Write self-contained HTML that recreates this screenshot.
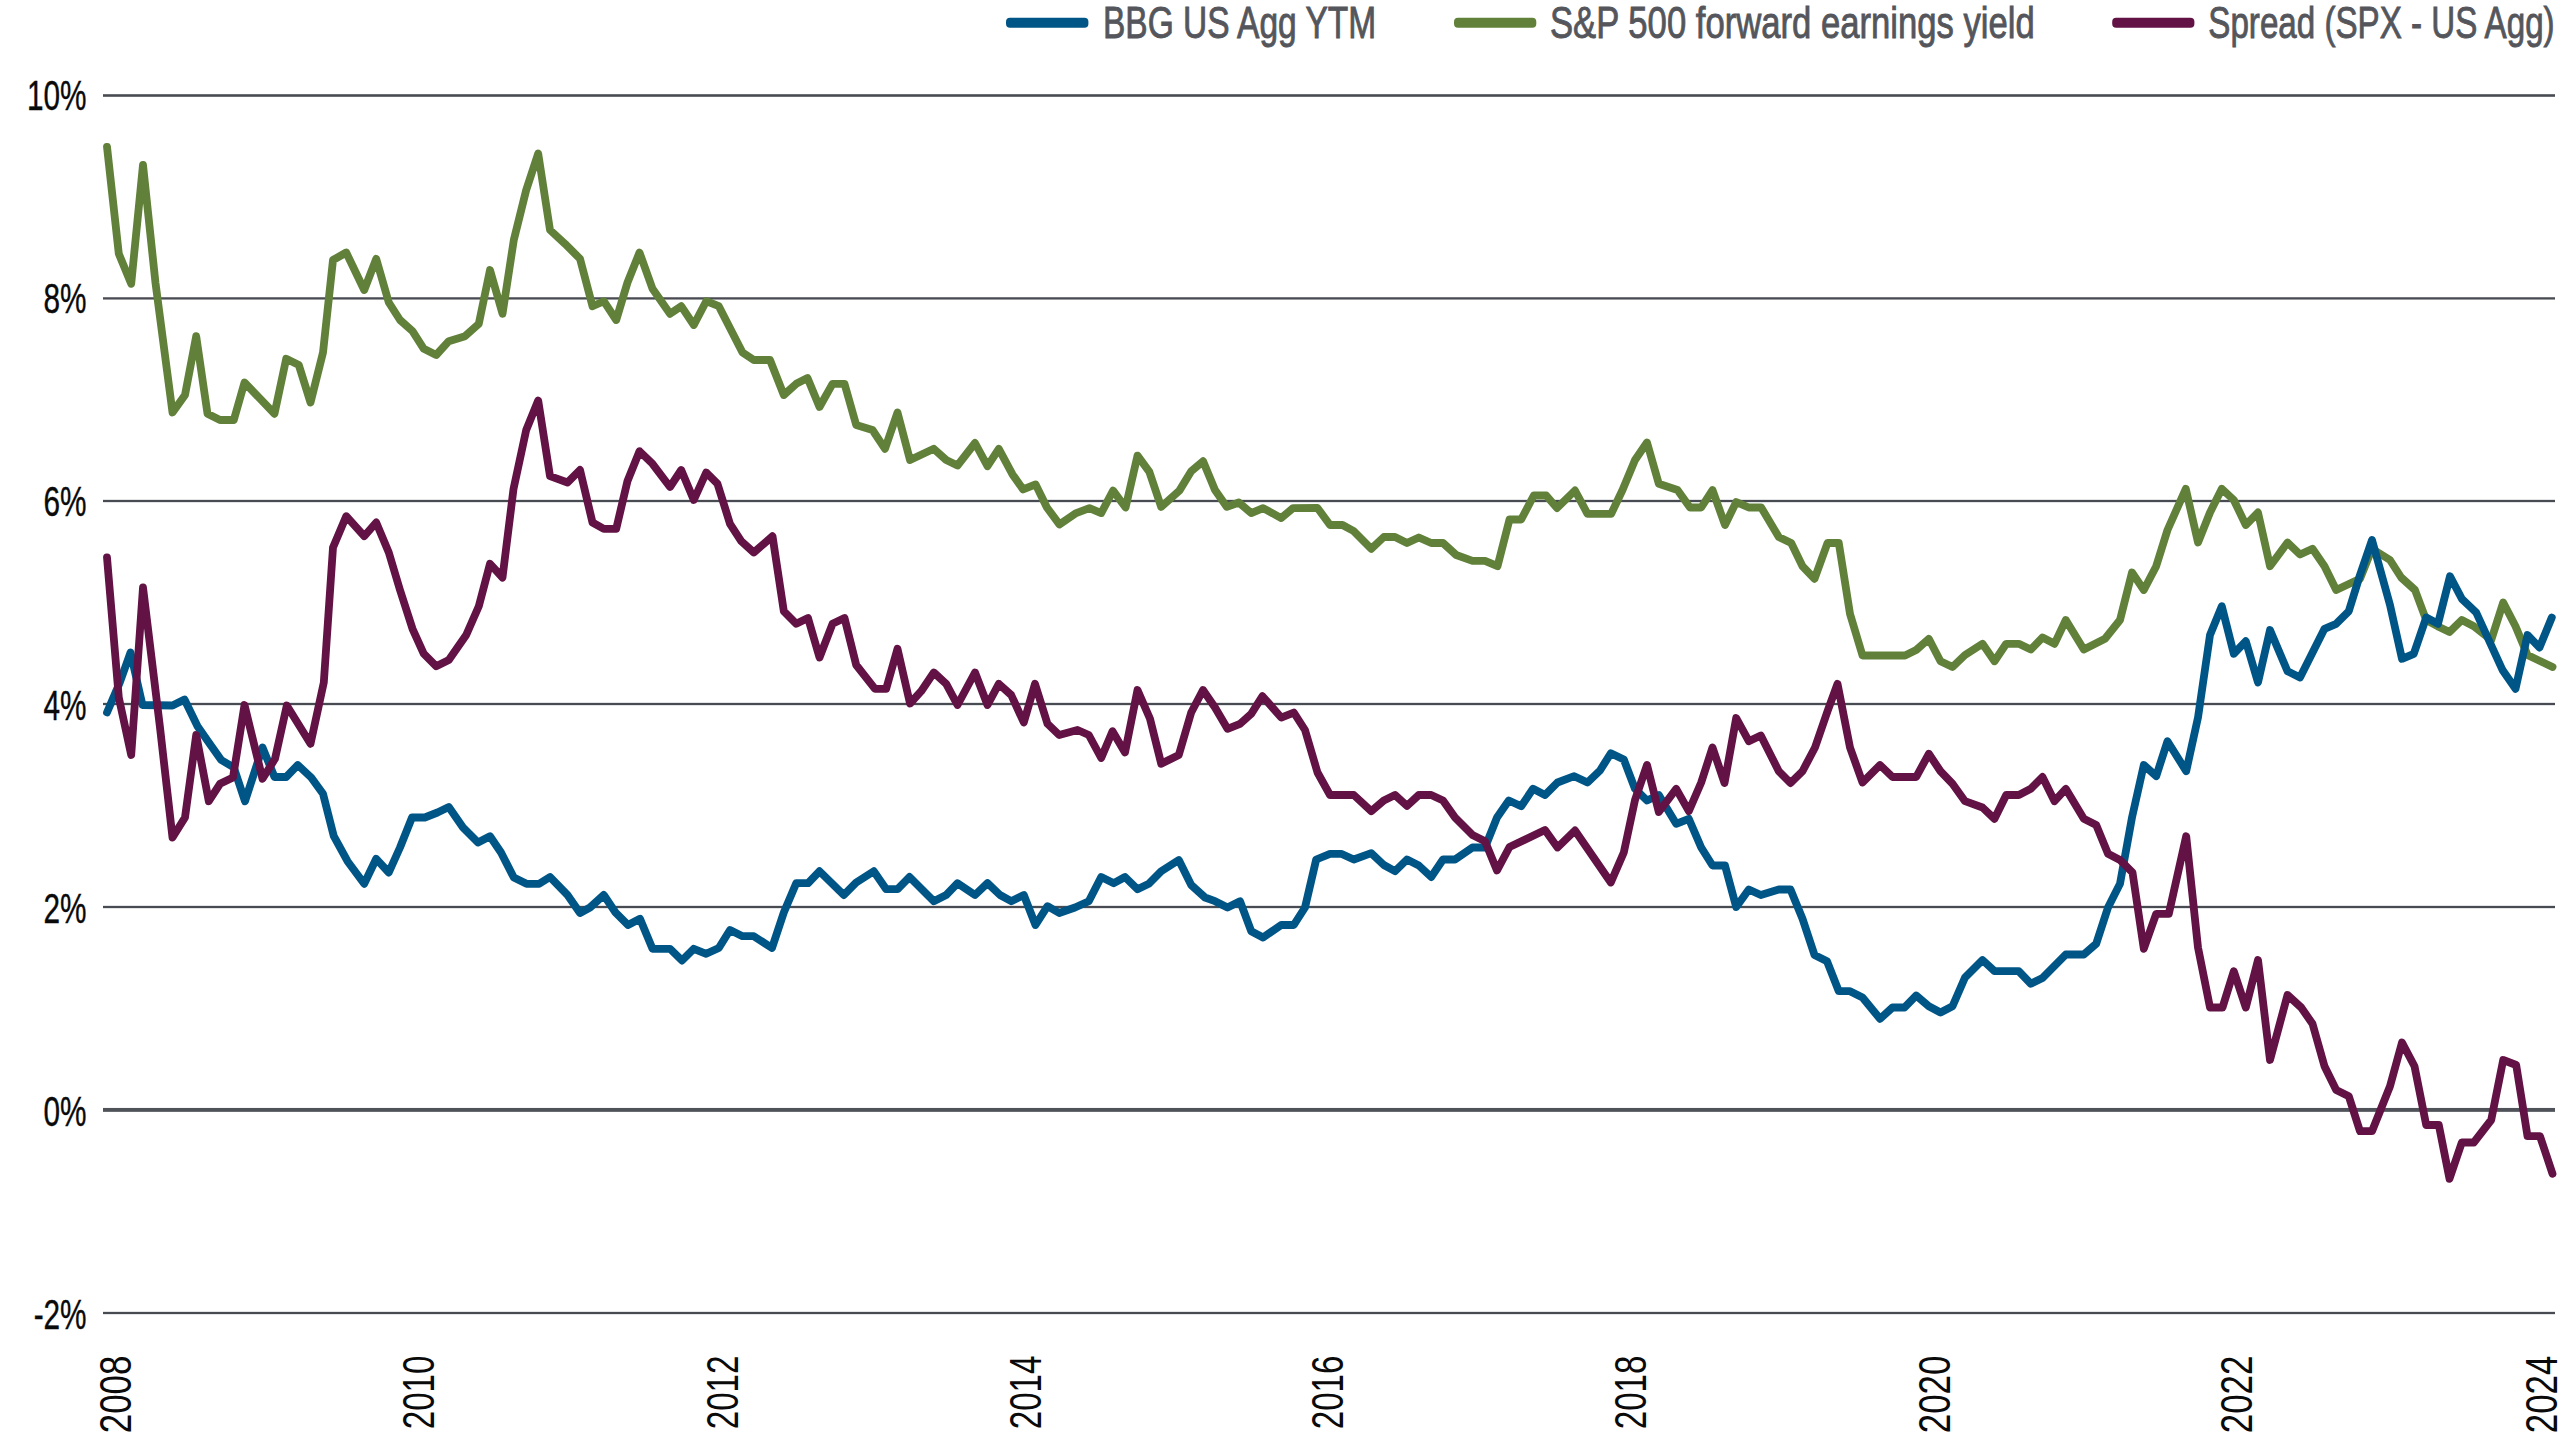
<!DOCTYPE html>
<html lang="en"><head><meta charset="utf-8"><title>Chart</title>
<style>
html,body{margin:0;padding:0;background:#fff;}
body{width:2560px;height:1440px;overflow:hidden;position:relative;font-family:"Liberation Sans",sans-serif;}
svg{position:absolute;left:0;top:0;display:block}
text{font-family:"Liberation Sans",sans-serif;}
.yl{font-size:42.8px;fill:#0a0a0a;text-anchor:end;stroke:#0a0a0a;stroke-width:0.4px}
.xl{font-size:45px;fill:#0a0a0a;text-anchor:end}
.lg{font-size:44.7px;fill:#54565c;text-anchor:start;stroke:#54565c;stroke-width:0.9px}
.ln{fill:none;stroke-width:7.8;stroke-linejoin:round;stroke-linecap:round}
</style></head><body>
<svg width="2560" height="1440" viewBox="0 0 2560 1440">
<rect x="103" y="94.20" width="2452" height="2.60" fill="#484b52"/>
<rect x="103" y="297.25" width="2452" height="2.30" fill="#484b52"/>
<rect x="103" y="499.85" width="2452" height="2.30" fill="#484b52"/>
<rect x="103" y="702.85" width="2452" height="2.30" fill="#484b52"/>
<rect x="103" y="905.85" width="2452" height="2.30" fill="#484b52"/>
<rect x="103" y="1107.95" width="2452" height="3.90" fill="#4f5359"/>
<rect x="103" y="1311.85" width="2452" height="2.30" fill="#484b52"/>
<polyline class="ln" stroke="#61813a" points="107.0,146.8 118.8,253.8 131.2,283.8 143.0,164.8 155.5,283.0 172.5,412.5 185.0,395.0 196.2,336.2 207.5,413.8 220.0,420.0 233.8,420.0 244.5,382.5 274.5,413.8 286.2,358.8 298.8,365.0 310.5,402.5 323.0,352.5 333.0,260.0 346.2,252.5 364.2,290.0 376.2,258.8 388.8,302.5 400.0,320.0 412.5,331.2 423.8,348.8 436.2,355.0 448.8,341.2 465.0,336.2 478.8,323.8 490.0,270.0 502.5,313.8 513.8,240.0 526.2,190.0 538.2,153.5 550.0,230.0 565.0,243.8 580.0,258.8 592.5,306.2 603.8,301.2 616.2,320.0 627.5,282.5 639.5,252.5 652.5,288.8 670.0,313.8 681.2,306.2 693.8,325.0 706.2,301.2 718.8,306.2 742.5,352.5 753.8,360.0 770.0,360.0 783.8,395.0 796.2,383.8 807.5,378.0 819.5,407.0 832.5,383.8 844.5,383.8 856.2,425.0 872.5,430.0 885.0,448.8 897.5,412.5 910.0,460.0 933.8,448.8 946.2,460.0 957.5,465.5 975.0,443.0 987.5,466.2 998.8,448.8 1012.5,474.4 1023.1,489.4 1035.6,484.4 1046.9,507.5 1059.4,524.4 1076.2,513.1 1089.4,508.1 1101.2,513.1 1113.1,490.6 1125.6,507.5 1137.5,455.6 1149.4,471.9 1161.2,506.9 1179.4,490.6 1191.2,471.2 1203.1,461.2 1215.0,490.0 1226.9,506.9 1238.8,502.5 1251.2,513.1 1263.1,508.1 1281.2,518.1 1293.1,508.1 1317.5,508.0 1330.0,525.0 1342.5,525.0 1353.8,531.2 1371.2,548.8 1383.8,537.0 1395.0,537.0 1407.0,543.0 1418.8,537.5 1431.2,543.0 1443.0,543.0 1456.2,555.0 1472.5,560.8 1485.0,560.8 1497.5,566.2 1509.5,519.5 1521.2,519.5 1533.8,495.5 1546.2,495.5 1557.0,508.0 1575.0,490.5 1587.5,513.8 1611.2,513.8 1622.5,490.0 1635.0,460.0 1647.0,442.5 1658.8,483.8 1677.5,490.0 1690.0,507.5 1701.2,507.5 1712.5,490.0 1725.0,525.0 1736.2,502.0 1748.8,507.5 1761.2,507.5 1778.8,537.0 1791.2,543.0 1802.5,566.2 1814.5,578.8 1827.5,543.0 1838.8,543.0 1850.0,613.8 1862.5,655.5 1905.0,655.5 1916.2,650.0 1928.8,638.8 1940.5,661.2 1952.5,667.0 1965.0,655.0 1982.5,643.8 1994.5,661.2 2006.2,643.8 2018.8,643.8 2030.8,649.5 2042.5,637.5 2054.5,643.8 2065.8,620.0 2083.8,649.5 2105.0,638.8 2120.0,620.0 2132.0,572.5 2143.8,590.0 2156.2,566.2 2167.5,530.0 2185.8,488.8 2198.0,542.5 2210.0,512.5 2221.8,488.8 2233.8,500.0 2245.8,525.0 2258.0,512.5 2270.0,566.2 2287.5,542.5 2300.0,554.5 2312.5,548.8 2324.5,566.2 2336.2,590.0 2360.0,578.8 2372.0,548.8 2390.0,560.0 2401.2,577.5 2415.0,590.0 2426.2,620.0 2437.5,626.2 2449.5,632.0 2461.8,620.0 2473.8,626.2 2491.2,640.0 2503.2,602.5 2515.5,626.2 2527.5,655.0 2552.5,667.0"/>
<polyline class="ln" stroke="#005587" points="107.0,712.5 119.8,682.5 130.5,652.5 142.5,705.0 172.5,705.5 184.5,699.5 197.5,726.2 208.8,742.5 221.2,760.0 233.8,767.5 245.0,801.2 262.5,747.5 274.5,777.0 286.2,777.0 297.8,765.0 311.2,777.5 323.0,793.8 333.8,836.2 347.5,861.2 364.2,883.8 376.2,858.8 388.8,872.5 400.0,847.5 412.0,817.5 424.8,817.5 437.5,812.5 448.8,807.0 463.0,827.5 478.0,842.5 490.0,836.2 501.0,852.5 513.8,877.5 526.5,883.8 539.2,883.8 550.0,877.0 567.5,895.0 580.0,913.0 590.0,907.5 603.8,895.0 615.5,912.5 628.0,925.0 640.0,918.8 652.5,948.8 670.0,948.8 682.0,960.5 693.8,948.8 706.2,953.8 718.8,948.0 730.0,930.0 742.5,936.2 753.8,936.2 772.0,948.0 783.8,912.5 796.2,883.2 808.0,883.2 819.5,871.2 843.8,895.0 856.2,882.5 873.8,871.2 886.2,889.2 897.5,889.2 909.5,877.0 933.8,901.2 946.2,895.0 957.5,883.2 975.0,895.0 987.5,883.2 1000.0,895.0 1011.2,901.2 1023.8,895.0 1035.5,925.0 1047.5,906.2 1059.2,913.0 1075.0,907.5 1088.8,901.2 1101.2,877.0 1113.8,883.2 1125.0,877.0 1137.5,889.2 1148.8,883.8 1161.2,871.2 1178.8,860.0 1191.2,885.0 1205.0,897.5 1215.0,901.2 1227.5,907.5 1240.0,901.2 1251.2,931.2 1263.0,937.5 1281.2,925.0 1293.8,925.0 1305.0,907.5 1316.2,859.5 1330.0,853.8 1341.2,853.8 1353.8,859.5 1371.2,853.2 1383.8,865.0 1395.0,871.2 1407.0,859.5 1418.8,865.5 1431.2,877.0 1443.0,859.5 1455.0,859.5 1472.5,847.5 1485.0,847.5 1497.0,817.5 1508.8,800.5 1521.2,806.2 1533.0,788.8 1545.0,795.0 1557.5,782.5 1574.2,776.2 1587.5,782.5 1600.0,770.5 1610.8,753.2 1623.8,759.5 1635.0,788.8 1647.0,800.5 1658.8,795.0 1676.2,823.8 1688.8,818.8 1701.2,847.5 1712.5,865.5 1725.0,865.5 1736.2,907.0 1748.8,889.5 1760.8,895.0 1778.8,889.5 1790.5,889.5 1802.5,918.8 1814.5,955.0 1827.0,961.2 1838.8,991.2 1850.0,991.2 1862.5,997.5 1880.0,1018.8 1892.5,1007.5 1904.5,1007.5 1916.2,995.5 1928.8,1006.2 1940.5,1012.5 1952.5,1006.2 1965.0,977.5 1982.5,960.0 1994.5,971.2 2018.8,971.2 2030.8,983.8 2042.5,978.0 2065.8,954.5 2083.8,954.5 2096.2,943.8 2108.0,907.5 2120.0,883.8 2132.0,817.5 2143.8,765.0 2156.2,776.2 2167.5,741.2 2186.2,771.2 2198.0,717.5 2210.0,635.0 2221.8,606.2 2233.8,653.8 2245.8,641.2 2258.0,682.5 2270.0,630.0 2287.5,671.2 2300.0,677.5 2324.5,628.8 2336.2,623.8 2348.8,611.2 2360.0,575.0 2372.0,540.0 2390.0,605.0 2402.0,658.8 2413.8,653.8 2426.2,617.5 2438.0,623.8 2450.0,576.2 2461.8,598.8 2476.2,612.5 2502.5,670.0 2515.5,688.8 2527.5,635.0 2539.5,647.5 2551.8,617.5"/>
<polyline class="ln" stroke="#621244" points="107.0,557.5 118.8,697.5 131.2,755.0 143.0,587.5 160.0,727.5 172.5,837.5 185.0,817.5 196.2,735.0 208.8,801.2 220.0,783.8 233.0,777.5 244.5,705.0 262.5,778.8 275.0,758.8 286.8,705.5 310.5,743.8 323.8,682.5 333.0,547.5 346.2,516.2 364.2,536.2 376.2,522.5 388.8,552.5 400.0,590.0 412.5,628.8 423.8,653.8 436.2,666.2 448.8,660.0 466.2,635.0 478.8,606.2 490.0,563.8 502.5,577.5 513.5,489.0 526.2,430.0 538.2,400.5 550.0,476.2 567.5,482.5 580.0,470.0 592.5,522.5 603.8,528.8 616.2,528.8 627.5,481.0 639.5,451.2 652.5,463.8 670.0,487.0 681.2,470.0 693.8,500.0 706.2,472.5 717.5,483.8 730.0,523.8 741.2,541.2 753.8,552.5 772.5,536.2 783.8,611.2 796.2,623.8 808.0,618.0 819.5,657.5 832.5,623.8 844.5,618.0 856.2,665.0 875.0,688.8 886.2,688.8 897.5,648.8 910.0,703.5 921.2,691.2 933.8,672.5 946.2,683.8 957.5,705.0 975.0,672.5 987.5,705.0 998.8,683.8 1011.2,695.0 1023.8,722.5 1035.0,683.8 1047.5,723.8 1059.2,735.0 1077.5,730.0 1088.8,735.0 1101.2,758.0 1112.5,731.2 1125.0,752.5 1137.5,690.0 1150.0,718.8 1161.2,763.8 1178.8,755.0 1191.2,712.5 1203.0,690.0 1215.0,707.5 1227.5,728.8 1240.0,723.8 1251.2,713.8 1262.5,696.2 1281.2,717.5 1293.8,712.5 1305.0,730.0 1317.5,772.5 1330.0,795.0 1353.8,795.0 1371.2,811.2 1383.8,800.5 1395.0,795.0 1407.0,805.8 1418.8,795.0 1431.2,795.0 1443.0,800.5 1455.0,817.5 1472.5,835.0 1485.0,841.2 1497.0,870.5 1509.5,847.0 1545.0,830.0 1557.5,847.5 1575.0,830.5 1610.8,882.5 1623.8,852.5 1635.0,800.0 1647.0,765.0 1658.8,812.0 1676.2,788.8 1688.8,811.2 1701.2,782.5 1712.5,747.5 1724.5,783.0 1736.2,718.0 1748.8,741.2 1760.8,735.5 1778.8,771.2 1790.5,783.0 1802.5,771.2 1815.0,747.5 1827.5,711.2 1837.5,683.8 1850.0,747.5 1862.5,782.5 1880.0,765.0 1892.5,777.0 1916.2,777.0 1928.8,753.8 1940.5,771.2 1952.5,783.8 1965.0,801.2 1982.5,807.5 1994.5,818.8 2006.2,795.0 2018.8,795.0 2030.8,788.8 2042.5,777.0 2054.5,801.2 2065.8,788.8 2083.8,818.8 2096.2,825.0 2108.0,853.8 2120.0,860.0 2132.5,872.5 2143.8,948.8 2156.2,913.8 2168.8,913.8 2186.2,836.2 2198.0,947.5 2210.0,1007.5 2222.5,1007.5 2233.8,971.2 2245.8,1007.5 2258.0,960.0 2270.0,1060.0 2287.5,995.0 2301.2,1007.5 2312.5,1023.8 2324.5,1066.2 2336.2,1090.0 2348.8,1096.2 2360.0,1131.2 2372.0,1131.2 2390.0,1086.2 2402.0,1042.5 2414.5,1066.2 2426.2,1125.0 2438.8,1125.0 2449.5,1178.8 2461.8,1142.5 2473.8,1142.5 2491.2,1120.0 2503.2,1060.0 2516.2,1065.0 2527.5,1136.2 2540.0,1136.2 2552.5,1173.8"/>
<text class="yl" transform="translate(86.6,110.0) scale(0.696,1)">10%</text>
<text class="yl" transform="translate(86.6,313.1) scale(0.696,1)">8%</text>
<text class="yl" transform="translate(86.6,516.3) scale(0.696,1)">6%</text>
<text class="yl" transform="translate(86.6,719.5) scale(0.696,1)">4%</text>
<text class="yl" transform="translate(86.6,922.6) scale(0.696,1)">2%</text>
<text class="yl" transform="translate(86.6,1125.8) scale(0.696,1)">0%</text>
<text class="yl" transform="translate(86.6,1328.9) scale(0.696,1)">-2%</text>
<text class="xl" transform="translate(131.1,1355.6) rotate(-90) scale(0.775,1)">2008</text>
<text class="xl" transform="translate(434.1,1355.6) rotate(-90) scale(0.735,1)">2010</text>
<text class="xl" transform="translate(738.1,1355.6) rotate(-90) scale(0.735,1)">2012</text>
<text class="xl" transform="translate(1041.1,1355.6) rotate(-90) scale(0.735,1)">2014</text>
<text class="xl" transform="translate(1343.1,1355.6) rotate(-90) scale(0.735,1)">2016</text>
<text class="xl" transform="translate(1646.1,1355.6) rotate(-90) scale(0.735,1)">2018</text>
<text class="xl" transform="translate(1950.1,1355.6) rotate(-90) scale(0.775,1)">2020</text>
<text class="xl" transform="translate(2252.1,1355.6) rotate(-90) scale(0.775,1)">2022</text>
<text class="xl" transform="translate(2557.1,1355.6) rotate(-90) scale(0.775,1)">2024</text>
<rect x="1006.0" y="17.8" width="82.4" height="10" rx="4" ry="4" fill="#005587"/>
<text class="lg" transform="translate(1103.0,37.5) scale(0.7499,1)">BBG US Agg YTM</text>
<rect x="1454.0" y="17.8" width="82.3" height="10" rx="4" ry="4" fill="#61813a"/>
<text class="lg" transform="translate(1550.0,37.5) scale(0.7754,1)">S&amp;P 500 forward earnings yield</text>
<rect x="2112.2" y="17.8" width="82.2" height="10" rx="4" ry="4" fill="#621244"/>
<text class="lg" transform="translate(2208.3,37.5) scale(0.7416,1)">Spread (SPX - US Agg)</text>
</svg></body></html>
